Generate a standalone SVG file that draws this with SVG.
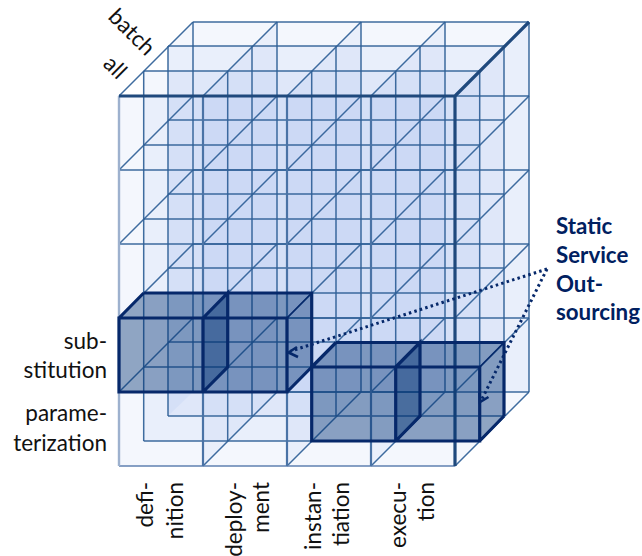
<svg xmlns="http://www.w3.org/2000/svg" width="642" height="556" viewBox="0 0 642 556">
<style>
.l{fill:#3e76de;fill-opacity:.056;stroke:none}
.g{stroke:#2f5f97;stroke-width:1.5;fill:none;stroke-opacity:.92}
.t{font-family:"Lato","Liberation Sans",sans-serif;font-size:22.5px;fill:#111}
.v{text-anchor:end}
.b{font-family:"Lato","Liberation Sans",sans-serif;font-size:22.3px;font-weight:700;fill:#002060}
.f{fill:#00306f;fill-opacity:.41;stroke:none}
.e{stroke:#06286a;fill:none;stroke-width:3.2}
.n{stroke:#06286a;fill:none;stroke-width:1.6}
.d{stroke:#06286a;fill:none;stroke-width:3;stroke-dasharray:2.5 3.2}
.h{stroke:#06286a;fill:none;stroke-width:2.6}
</style>
<g id="planes">
<rect class="l" x="193" y="22" width="336" height="370"/>
<rect class="l" x="168" y="46" width="336" height="370"/>
<rect class="l" x="143.7" y="71" width="336" height="370"/>
<rect class="l" x="119" y="96" width="336" height="370"/>
<path class="l" d="M168 46L193 22V392L168 416Z"/>
<path class="l" d="M203 96L277 22V392L203 466Z"/>
<path class="l" d="M287 96L361 22V392L287 466Z"/>
<path class="l" d="M371 96L445 22V392L371 466Z"/>
<path class="l" d="M455 96L529 22V392L455 466Z"/>
</g>
<g id="connectors">
<path class="g" d="M193 22H529M193 96H529M193 170H529M193 244H529M193 318H529M193 392H529"/>
<path class="g" d="M193 22V392M277 22V392M361 22V392M445 22V392M529 22V392"/>
<path class="g" d="M168 46H504M168 120H504M168 194H504M168 268H504M168 342H504M168 416H504"/>
<path class="g" d="M168 46V416M252 46V416M336 46V416M420 46V416M504 46V416"/>
<path class="g" d="M143.7 71H479.7M143.7 145H479.7M143.7 219H479.7M143.7 293H479.7M143.7 367H479.7M143.7 441H479.7"/>
<path class="g" d="M143.7 71V441M227.7 71V441M311.7 71V441M395.7 71V441M479.7 71V441"/>
<path class="g" d="M119 96L193 22M119 170L193 96M119 244L193 170M119 318L193 244M119 392L193 318"/>
<path class="g" d="M203 96L277 22M203 170L277 96M203 244L277 170M203 318L277 244M203 392L277 318M203 466L277 392"/>
<path class="g" d="M287 96L361 22M287 170L361 96M287 244L361 170M287 318L361 244M287 392L361 318M287 466L361 392"/>
<path class="g" d="M371 96L445 22M371 170L445 96M371 244L445 170M371 318L445 244M371 392L445 318M371 466L445 392"/>
<path class="g" d="M455 170L529 96M455 244L529 170M455 318L529 244M455 392L529 318M455 466L529 392"/>
<path class="g" d="M119 170H455M119 244H455M119 318H455M119 392H455"/>
<path fill="none" stroke="#5f81b0" stroke-width="1.6" d="M119 466H455"/>
<path fill="none" stroke="#9db1ce" stroke-width="2.4" d="M119 96V466"/>
<path fill="none" stroke="#4a73a6" stroke-width="2.2" d="M203 96V466M287 96V466M371 96V466"/>
<path fill="none" stroke="#1f497d" stroke-width="3.2" d="M119 96H455V466M455 96L529 22"/>
</g>
<g id="box-substitution">
<path class="f" d="M119 318H287V392H119Z"/>
<path class="f" d="M119 318L143.7 293H311.7L287 318Z"/>
<path class="f" d="M287 318L311.700 293V367L287 392Z"/>
<path class="f" d="M203 318L227.700 293V367L203 392Z"/>
<path class="e" d="M119 318H287V392H119ZM203 318V392M143.700 293H311.700V367M119 318L143.700 293M203 318L227.700 293V367L203 392M287 392L311.700 367"/>
<path class="n" d="M287 318L311.700 293"/>
</g>
<g id="box-outsourcing">
<path class="f" d="M311.700 367H479.700V441H311.700Z"/>
<path class="f" d="M311.700 367L336 342.500H504L479.700 367Z"/>
<path class="f" d="M479.700 367L504 342.500V416L479.700 441Z"/>
<path class="f" d="M395.700 367L420 342.500V416L395.700 441Z"/>
<path class="e" d="M311.700 367H479.700V441H311.700ZM395.700 367V441M336 342.500H504V416M311.700 367L336 342.500M395.700 367L420 342.500V416L395.700 441M479.700 441L504 416"/>
<path class="n" d="M479.700 367L504 342.500"/>
</g>
<g id="arrows">
<path class="d" d="M547 269L291 351"/>
<path class="d" d="M547 269L482 399"/>
<path class="h" d="M297 347L288.500 352.500L298 357"/>
<path class="h" d="M479.500 393L480 402L488.500 397"/>
</g>
<g id="labels">
<text class="t" transform="translate(107 18) rotate(45)">batch</text>
<text class="t" transform="translate(102 65) rotate(45)">all</text>
<text class="t" x="107" y="349" text-anchor="end">sub-</text>
<text class="t" x="107" y="378" text-anchor="end">stitution</text>
<text class="t" x="107" y="421" text-anchor="end">parame-</text>
<text class="t" x="107" y="451" text-anchor="end">terization</text>
<text class="t v" transform="translate(153 482) rotate(-90)">defi-</text>
<text class="t v" transform="translate(183 482) rotate(-90)">nition</text>
<text class="t v" transform="translate(242 482) rotate(-90)">deploy-</text>
<text class="t v" transform="translate(269 482) rotate(-90)">ment</text>
<text class="t v" transform="translate(321 482) rotate(-90)">instan-</text>
<text class="t v" transform="translate(349 482) rotate(-90)">tiation</text>
<text class="t v" transform="translate(406 482) rotate(-90)">execu-</text>
<text class="t v" transform="translate(434 482) rotate(-90)">tion</text>
<text class="b" x="556" y="234">Static</text>
<text class="b" x="556" y="263">Service</text>
<text class="b" x="556" y="292">Out-</text>
<text class="b" x="556" y="320">sourcing</text>
</g>
</svg>
